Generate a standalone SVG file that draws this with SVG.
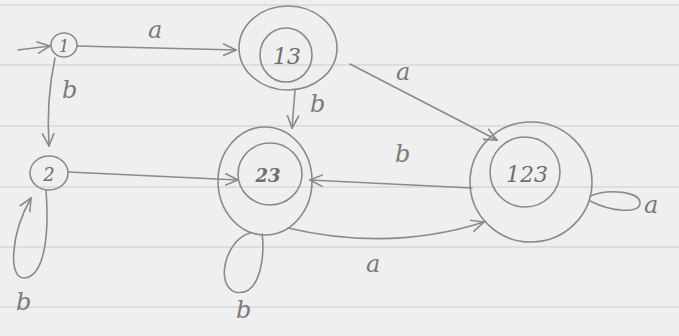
<svg xmlns="http://www.w3.org/2000/svg" width="679" height="336" viewBox="0 0 679 336">
<style>
.bg{fill:#efefef}
.rule{stroke:#d9d9d9;stroke-width:1.5}
.st{fill:none;stroke:#8a8a8a;stroke-width:1.6;stroke-linecap:round}
.lbl{font-family:"DejaVu Serif","Liberation Serif",serif;font-style:italic;font-size:24px;fill:#7a7a7a}
.nl{font-family:"DejaVu Serif","Liberation Serif",serif;font-style:italic;font-size:22px;fill:#6e6e6e;text-anchor:middle}
</style>
<defs>
<marker id="ah" viewBox="0 0 14 14" refX="13" refY="7" markerWidth="14" markerHeight="14" markerUnits="userSpaceOnUse" orient="auto">
<path d="M0,1 L13,7 L0,13" fill="none" stroke="#8a8a8a" stroke-width="1.6"/>
</marker>
</defs>
<rect class="bg" x="0" y="0" width="679" height="336"/>
<g id="ruling">
<line class="rule" x1="0" y1="5" x2="679" y2="5"/>
<line class="rule" x1="0" y1="65" x2="679" y2="65"/>
<line class="rule" x1="0" y1="126" x2="679" y2="126"/>
<line class="rule" x1="0" y1="187" x2="679" y2="187"/>
<line class="rule" x1="0" y1="247" x2="679" y2="247"/>
<line class="rule" x1="0" y1="307" x2="679" y2="307"/>
</g>
<g id="connectors">
<path class="st" d="M18,50 L50,46" marker-end="url(#ah)"/>
<path class="st" d="M77,46 L236,50" marker-end="url(#ah)"/>
<path class="st" d="M55,58 Q46,100 49,146" marker-end="url(#ah)"/>
<path class="st" d="M68,172 L238,180" marker-end="url(#ah)"/>
<path class="st" d="M46,190 C49,230 46,275 25,278 C8,280 10,235 31,198" marker-end="url(#ah)"/>
<path class="st" d="M295,90 L292,128" marker-end="url(#ah)"/>
<path class="st" d="M350,64 L497,140" marker-end="url(#ah)"/>
<path class="st" d="M472,188 L310,180" marker-end="url(#ah)"/>
<path class="st" d="M288,228 Q390,252 484,222" marker-end="url(#ah)"/>
<path class="st" d="M250,233 C225,240 215,285 235,292 C262,298 265,250 262,234"/>
<path class="st" d="M590,196 C610,188 640,192 640,203 C640,214 612,212 590,201"/>
</g>
<g id="node-1">
<ellipse class="st" cx="64" cy="45" rx="13" ry="12"/>
<text class="nl" x="64" y="52" style="font-size:16px">1</text>
</g>
<g id="node-13">
<ellipse class="st" cx="288" cy="48" rx="49" ry="42"/>
<ellipse class="st" cx="286" cy="55" rx="26" ry="27"/>
<text class="nl" x="287" y="64">13</text>
</g>
<g id="node-2">
<ellipse class="st" cx="49" cy="173" rx="19" ry="17"/>
<text class="nl" x="49" y="181" style="font-size:18px">2</text>
</g>
<g id="node-23">
<ellipse class="st" cx="265" cy="181" rx="47" ry="54"/>
<ellipse class="st" cx="270" cy="174" rx="32" ry="31"/>
<text class="nl" x="268" y="182" style="font-size:18px;font-weight:bold">23</text>
</g>
<g id="node-123">
<ellipse class="st" cx="531" cy="182" rx="61" ry="60"/>
<ellipse class="st" cx="525" cy="172" rx="35" ry="35"/>
<text class="nl" x="527" y="182">123</text>
</g>
<g id="labels">
<text class="lbl" x="148" y="38">a</text>
<text class="lbl" x="62" y="98">b</text>
<text class="lbl" x="310" y="112">b</text>
<text class="lbl" x="396" y="80">a</text>
<text class="lbl" x="395" y="162">b</text>
<text class="lbl" x="366" y="272">a</text>
<text class="lbl" x="644" y="213">a</text>
<text class="lbl" x="16" y="310">b</text>
<text class="lbl" x="236" y="318">b</text>
</g>
</svg>
